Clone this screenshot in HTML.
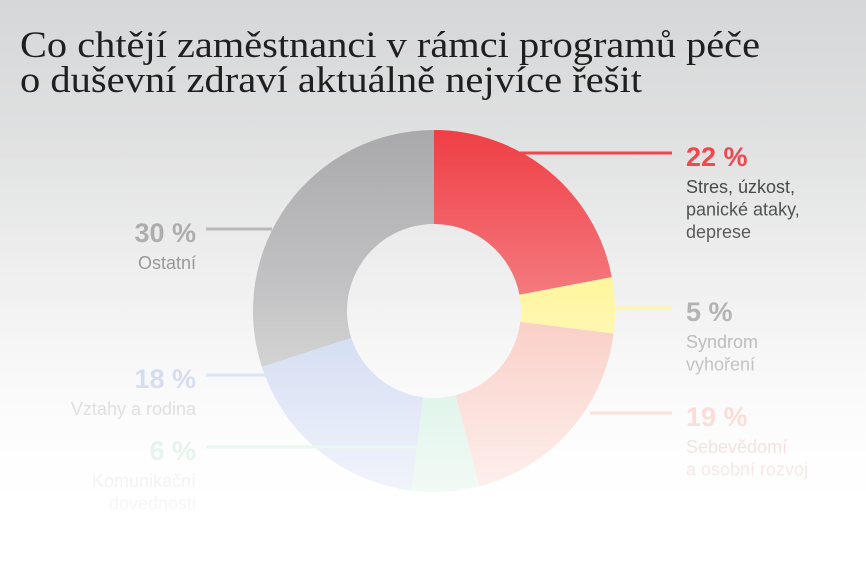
<!DOCTYPE html>
<html><head><meta charset="utf-8"><style>
html,body{margin:0;padding:0;}
body{width:866px;height:575px;overflow:hidden;background:#fff;}
svg{display:block;font-family:"Liberation Sans",sans-serif;}
</style></head><body>
<svg id="chart" width="866" height="575" viewBox="0 0 866 575">
<defs>
<linearGradient id="bg" x1="0" y1="0" x2="0" y2="1">
<stop offset="0" stop-color="#d6d7d8"/><stop offset="0.55" stop-color="#ececec"/><stop offset="0.88" stop-color="#ffffff"/><stop offset="1" stop-color="#ffffff"/>
</linearGradient>
<linearGradient id="fade" gradientUnits="userSpaceOnUse" x1="0" y1="130" x2="0" y2="530">
<stop offset="0" stop-color="#ffffff" stop-opacity="0"/>
<stop offset="0.4" stop-color="#ffffff" stop-opacity="0.3"/>
<stop offset="0.7" stop-color="#ffffff" stop-opacity="0.6"/>
<stop offset="1" stop-color="#ffffff" stop-opacity="0.9"/>
</linearGradient>
</defs>
<rect width="866" height="575" fill="url(#bg)"/>
<g id="slices"></g>
<g id="labels"></g>
<rect width="866" height="575" fill="url(#fade)"/>
<g font-family="'Liberation Serif',serif" fill="#1f1f1f" font-size="37">
<text x="20" y="57" textLength="740" lengthAdjust="spacingAndGlyphs">Co chtějí zaměstnanci v rámci programů péče</text>
<text x="20" y="92" textLength="622" lengthAdjust="spacingAndGlyphs">o duševní zdraví aktuálně nejvíce řešit</text>
</g>
</svg>
<script>
const categories = ["Stres, úzkost, panické ataky, deprese","Syndrom vyhoření","Sebevědomí a osobní rozvoj","Komunikační dovednosti","Vztahy a rodina","Ostatní"];
const values = [22, 5, 19, 6, 18, 30];
const valueLabels = ["22 %","5 %","19 %","6 %","18 %","30 %"];
const labelLines = [["Stres, úzkost,","panické ataky,","deprese"],["Syndrom","vyhoření"],["Sebevědomí","a osobní rozvoj"],["Komunikační","dovednosti"],["Vztahy a rodina"],["Ostatní"]];
const colors = ["#ef3e45","#fff27a","#f7b3a6","#b9e7cf","#b7c6ea","#a9a9ab"];
const pctColors = ["#ef3e45","#8a8a8a","#f2a79c","#a9dcc2","#aab8e0","#9a9a9a"];
const textColors = ["#333","#8a8a8a","#d9a49a","#c8c8c8","#b0b0b0","#777"];
const ns="http://www.w3.org/2000/svg";
const cx=434, cy=311, R=181, r=87;
const total=values.reduce((a,b)=>a+b,0);
function ang(v){return v/total*2*Math.PI;}
function pt(a,rad){return [cx+rad*Math.sin(a), cy-rad*Math.cos(a)];}
const gS=document.getElementById('slices'), gL=document.getElementById('labels');
const sides=[1,1,1,0,0,0];
const rows=[153,308,413,447,375,229];
const lineX1=[520,614,590,206,206,206];
const lineX2=[672,672,672,420,265,272];
let acc=0;
values.forEach((v,i)=>{
  const a0=ang(acc), a1=ang(acc+v); acc+=v;
  const large=(a1-a0)>Math.PI?1:0;
  const [x0,y0]=pt(a0,R),[x1,y1]=pt(a1,R),[x2,y2]=pt(a1,r),[x3,y3]=pt(a0,r);
  const p=document.createElementNS(ns,'path');
  p.setAttribute('d',`M${x0},${y0}A${R},${R} 0 ${large} 1 ${x1},${y1}L${x2},${y2}A${r},${r} 0 ${large} 0 ${x3},${y3}Z`);
  p.setAttribute('fill',colors[i]);
  
  
  gS.appendChild(p);
  const right=sides[i]===1;
  const ly=rows[i];
  const ln=document.createElementNS(ns,'line');
  ln.setAttribute('x1',lineX1[i]);
  ln.setAttribute('x2',lineX2[i]);
  ln.setAttribute('y1',ly); ln.setAttribute('y2',ly);
  ln.setAttribute('stroke',colors[i]); ln.setAttribute('stroke-width',3);
  
  
  gL.appendChild(ln);
  const tx = right?686:196, anchor=right?'start':'end';
  const t=document.createElementNS(ns,'text');
  t.setAttribute('x',tx); t.setAttribute('y',ly+13);
  t.setAttribute('text-anchor',anchor);
  t.setAttribute('font-size','27'); t.setAttribute('font-weight','bold');
  t.setAttribute('fill',pctColors[i]);
  t.textContent=valueLabels[i];
  
  
  gL.appendChild(t);
  labelLines[i].forEach((s,k)=>{
    const c=document.createElementNS(ns,'text');
    c.setAttribute('x',tx); c.setAttribute('y',ly+40+k*22.5);
    c.setAttribute('text-anchor',anchor);
    c.setAttribute('font-size','18');
    c.setAttribute('fill',textColors[i]);
    c.textContent=s;
    
    
    gL.appendChild(c);
  });
});
</script>
</body></html>
